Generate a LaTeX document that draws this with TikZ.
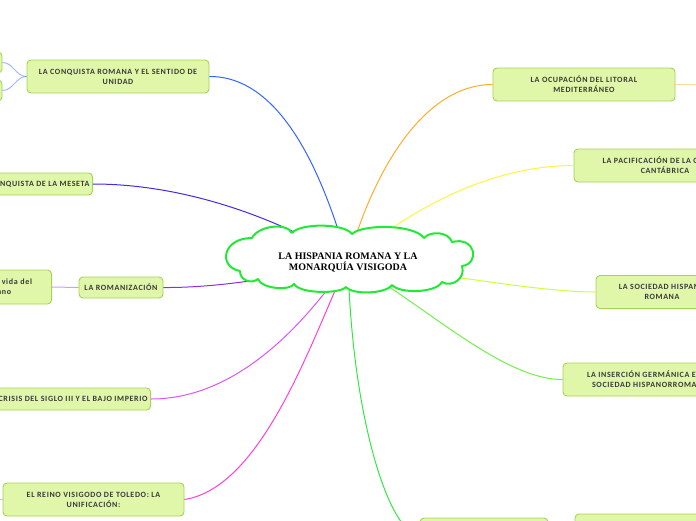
\documentclass[tikz,border=0pt]{standalone}
\usepackage{fontspec}
\newfontfamily\boxfont[LetterSpace=8]{Carlito}
\newfontfamily\hubfont{Liberation Serif}
\definecolor{boxfill}{RGB}{224,246,168}
\definecolor{boxline}{RGB}{164,212,84}
\definecolor{boxtext}{RGB}{58,58,58}
\definecolor{hubline}{RGB}{34,234,52}
\definecolor{cblue}{RGB}{52,100,255}
\definecolor{cindigo}{RGB}{64,44,232}
\definecolor{cpurple}{RGB}{142,44,230}
\definecolor{cviolet}{RGB}{222,84,250}
\definecolor{cpink}{RGB}{255,64,214}
\definecolor{corange}{RGB}{255,172,40}
\definecolor{cyellow}{RGB}{255,244,60}
\definecolor{clime}{RGB}{204,255,60}
\definecolor{cgreen}{RGB}{112,240,72}
\definecolor{cgreenb}{RGB}{52,232,64}
\begin{document}
\begin{tikzpicture}[x=1pt,y=-1pt,
	topic/.style={draw=boxline,fill=boxfill,rounded corners=4pt,line width=0.9pt,
		text=boxtext,font=\boxfont\bfseries\fontsize{8}{10}\selectfont,align=center,
		inner sep=3pt,minimum height=33pt},
	subtopic/.style={topic,minimum height=21pt},
	link/.style={line width=1pt},
	sublink/.style={line width=1pt,opacity=0.45}]
	\useasboundingbox (0,0) rectangle (696,520);
	\coordinate (c) at (348,262);
	% nodes on the left
	\node[topic,minimum width=182pt] (conquista) at (118,76.5) {LA CONQUISTA ROMANA Y EL SENTIDO DE\\UNIDAD};
	\node[subtopic,minimum width=80pt] (cq1) at (-38,62.5) {};
	\node[subtopic,minimum width=80pt] (cq2) at (-38,90.5) {};
	\node[subtopic,minimum height=22pt,anchor=east] (meseta) at (93,184) {LA CONQUISTA DE LA MESETA};
	\node[subtopic,minimum width=84pt] (romanizacion) at (121,287.5) {LA ROMANIZACIÓN};
	\node[topic,minimum height=34pt,text width=104pt,anchor=east] (vida) at (52,287) {Forma de \ vida del\\romano};
	\node[subtopic,minimum height=22pt,anchor=east] (crisis) at (151,399) {LA CRISIS DEL SIGLO III Y EL BAJO IMPERIO};
	\node[topic,minimum width=181pt] (reino) at (93.5,499.5) {EL REINO VISIGODO DE TOLEDO: LA\\UNIFICACIÓN:};
	\coordinate (reinoL) at (-40,499.5);
	% nodes on the right
	\node[topic,minimum width=182pt] (ocupacion) at (584,84.5) {LA OCUPACIÓN DEL LITORAL\\MEDITERRÁNEO};
	\coordinate (ocupacionR) at (730,84.5);
	\node[topic,minimum width=182pt] (pacificacion) at (665,165.5) {LA PACIFICACIÓN DE LA CORNISA\\CANTÁBRICA};
	\node[topic,minimum width=132pt] (sociedad) at (662,292) {LA SOCIEDAD HISPANO\\ROMANA};
	\node[topic,minimum width=174pt] (insercion) at (650,379.5) {LA INSERCIÓN GERMÁNICA EN LA\\SOCIEDAD HISPANORROMANA};
	\node[topic,minimum width=128pt,minimum height=34pt] (bajo1) at (484,535) {};
	\node[topic,minimum width=185pt,minimum height=34pt] (bajo2) at (667.5,531) {};
	% connectors
	\draw[link,cblue] (conquista.east) .. controls (290,76) and (330,200) .. (c);
	\draw[link,cindigo] (meseta.east) .. controls (200,184) and (300,230) .. (c);
	\draw[link,cpurple] (romanizacion.east) .. controls (220,288) and (290,276) .. (c);
	\draw[link,cviolet] (crisis.east) .. controls (250,399) and (320,300) .. (c);
	\draw[link,cpink] (reino.east) .. controls (265,487) and (315,330) .. (c);
	\draw[link,corange] (c) .. controls (370,180) and (420,84.5) .. (ocupacion.west);
	\draw[link,cyellow] (c) .. controls (420,200) and (500,165.5) .. (pacificacion.west);
	\draw[link,clime] (c) .. controls (450,275) and (540,292) .. (sociedad.west);
	\draw[link,cgreen] (c) .. controls (420,300) and (500,379.5) .. (insercion.west);
	\draw[link,cgreenb] (c) .. controls (352,420) and (390,535) .. (bajo1.west);
	\draw[sublink,cblue] (conquista.west) to[out=180,in=0] (cq1.east);
	\draw[sublink,cblue] (conquista.west) to[out=180,in=0] (cq2.east);
	\draw[sublink,cpurple] (romanizacion.west) -- (vida.east);
	\draw[sublink,cpink] (reino.west) -- (reinoL);
	\draw[sublink,corange] (ocupacion.east) -- (ocupacionR);
	% central idea
	\draw[hubline,fill=white,line width=2pt,line join=round]
		(240,271) .. controls (218,267) and (222,238) .. (252,238)
		.. controls (258,226) and (286,222) .. (292,233)
		.. controls (300,223) and (344,223) .. (352,234)
		.. controls (362,224) and (414,224) .. (424,238)
		.. controls (430,231) and (448,231) .. (452,242)
		.. controls (476,236) and (480,264) .. (462,266)
		.. controls (466,278) and (452,288) .. (442,282)
		.. controls (436,293) and (400,294) .. (392,285)
		.. controls (386,294) and (352,295) .. (346,287)
		.. controls (340,294) and (300,294) .. (294,284)
		.. controls (290,291) and (262,289) .. (258,279)
		.. controls (252,284) and (240,281) .. (240,271) -- cycle;
	\node[font=\hubfont\bfseries\fontsize{10}{11}\selectfont,align=center] (hub) at (c)
		{LA HISPANIA ROMANA Y LA\\MONARQUÍA VISIGODA};
\end{tikzpicture}
\end{document}
